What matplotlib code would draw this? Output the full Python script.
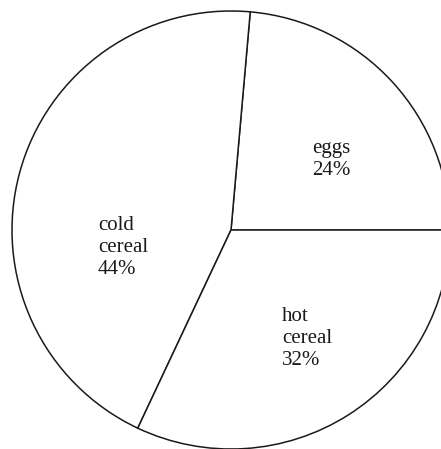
import matplotlib
matplotlib.use("Agg")
import matplotlib.pyplot as plt

# Breakfast choices (shares, labels as printed)
labels = ["eggs", "cold\ncereal", "hot\ncereal"]
shares = [23.6, 44.4, 32.0]
pct_text = ["24%", "44%", "32%"]

W, H = 441, 449
fig = plt.figure(figsize=(W / 100, H / 100), dpi=100)
ax = fig.add_axes([0, 0, 1, 1])

cx, cy, r = 231, H - 230, 219
ax.pie(shares, center=(cx, cy), radius=r, startangle=0, counterclock=True,
       colors=["white"] * 3,
       wedgeprops=dict(edgecolor="#1a1a1a", linewidth=1.1))
ax.set_xlim(0, W)
ax.set_ylim(0, H)
ax.set_aspect("equal")
ax.axis("off")

# last-line baseline positions (pixels from top-left)
label_pos = [(312, 175), (98, 274), (282, 365)]
for lab, p, (px, py) in zip(labels, pct_text, label_pos):
    ax.text(px, H - py, f"{lab}\n{p}", ha="left", va="baseline",
            fontsize=15, family="Liberation Serif", color="#1a1a1a",
            linespacing=1.22)

fig.savefig("out.png", dpi=100)
